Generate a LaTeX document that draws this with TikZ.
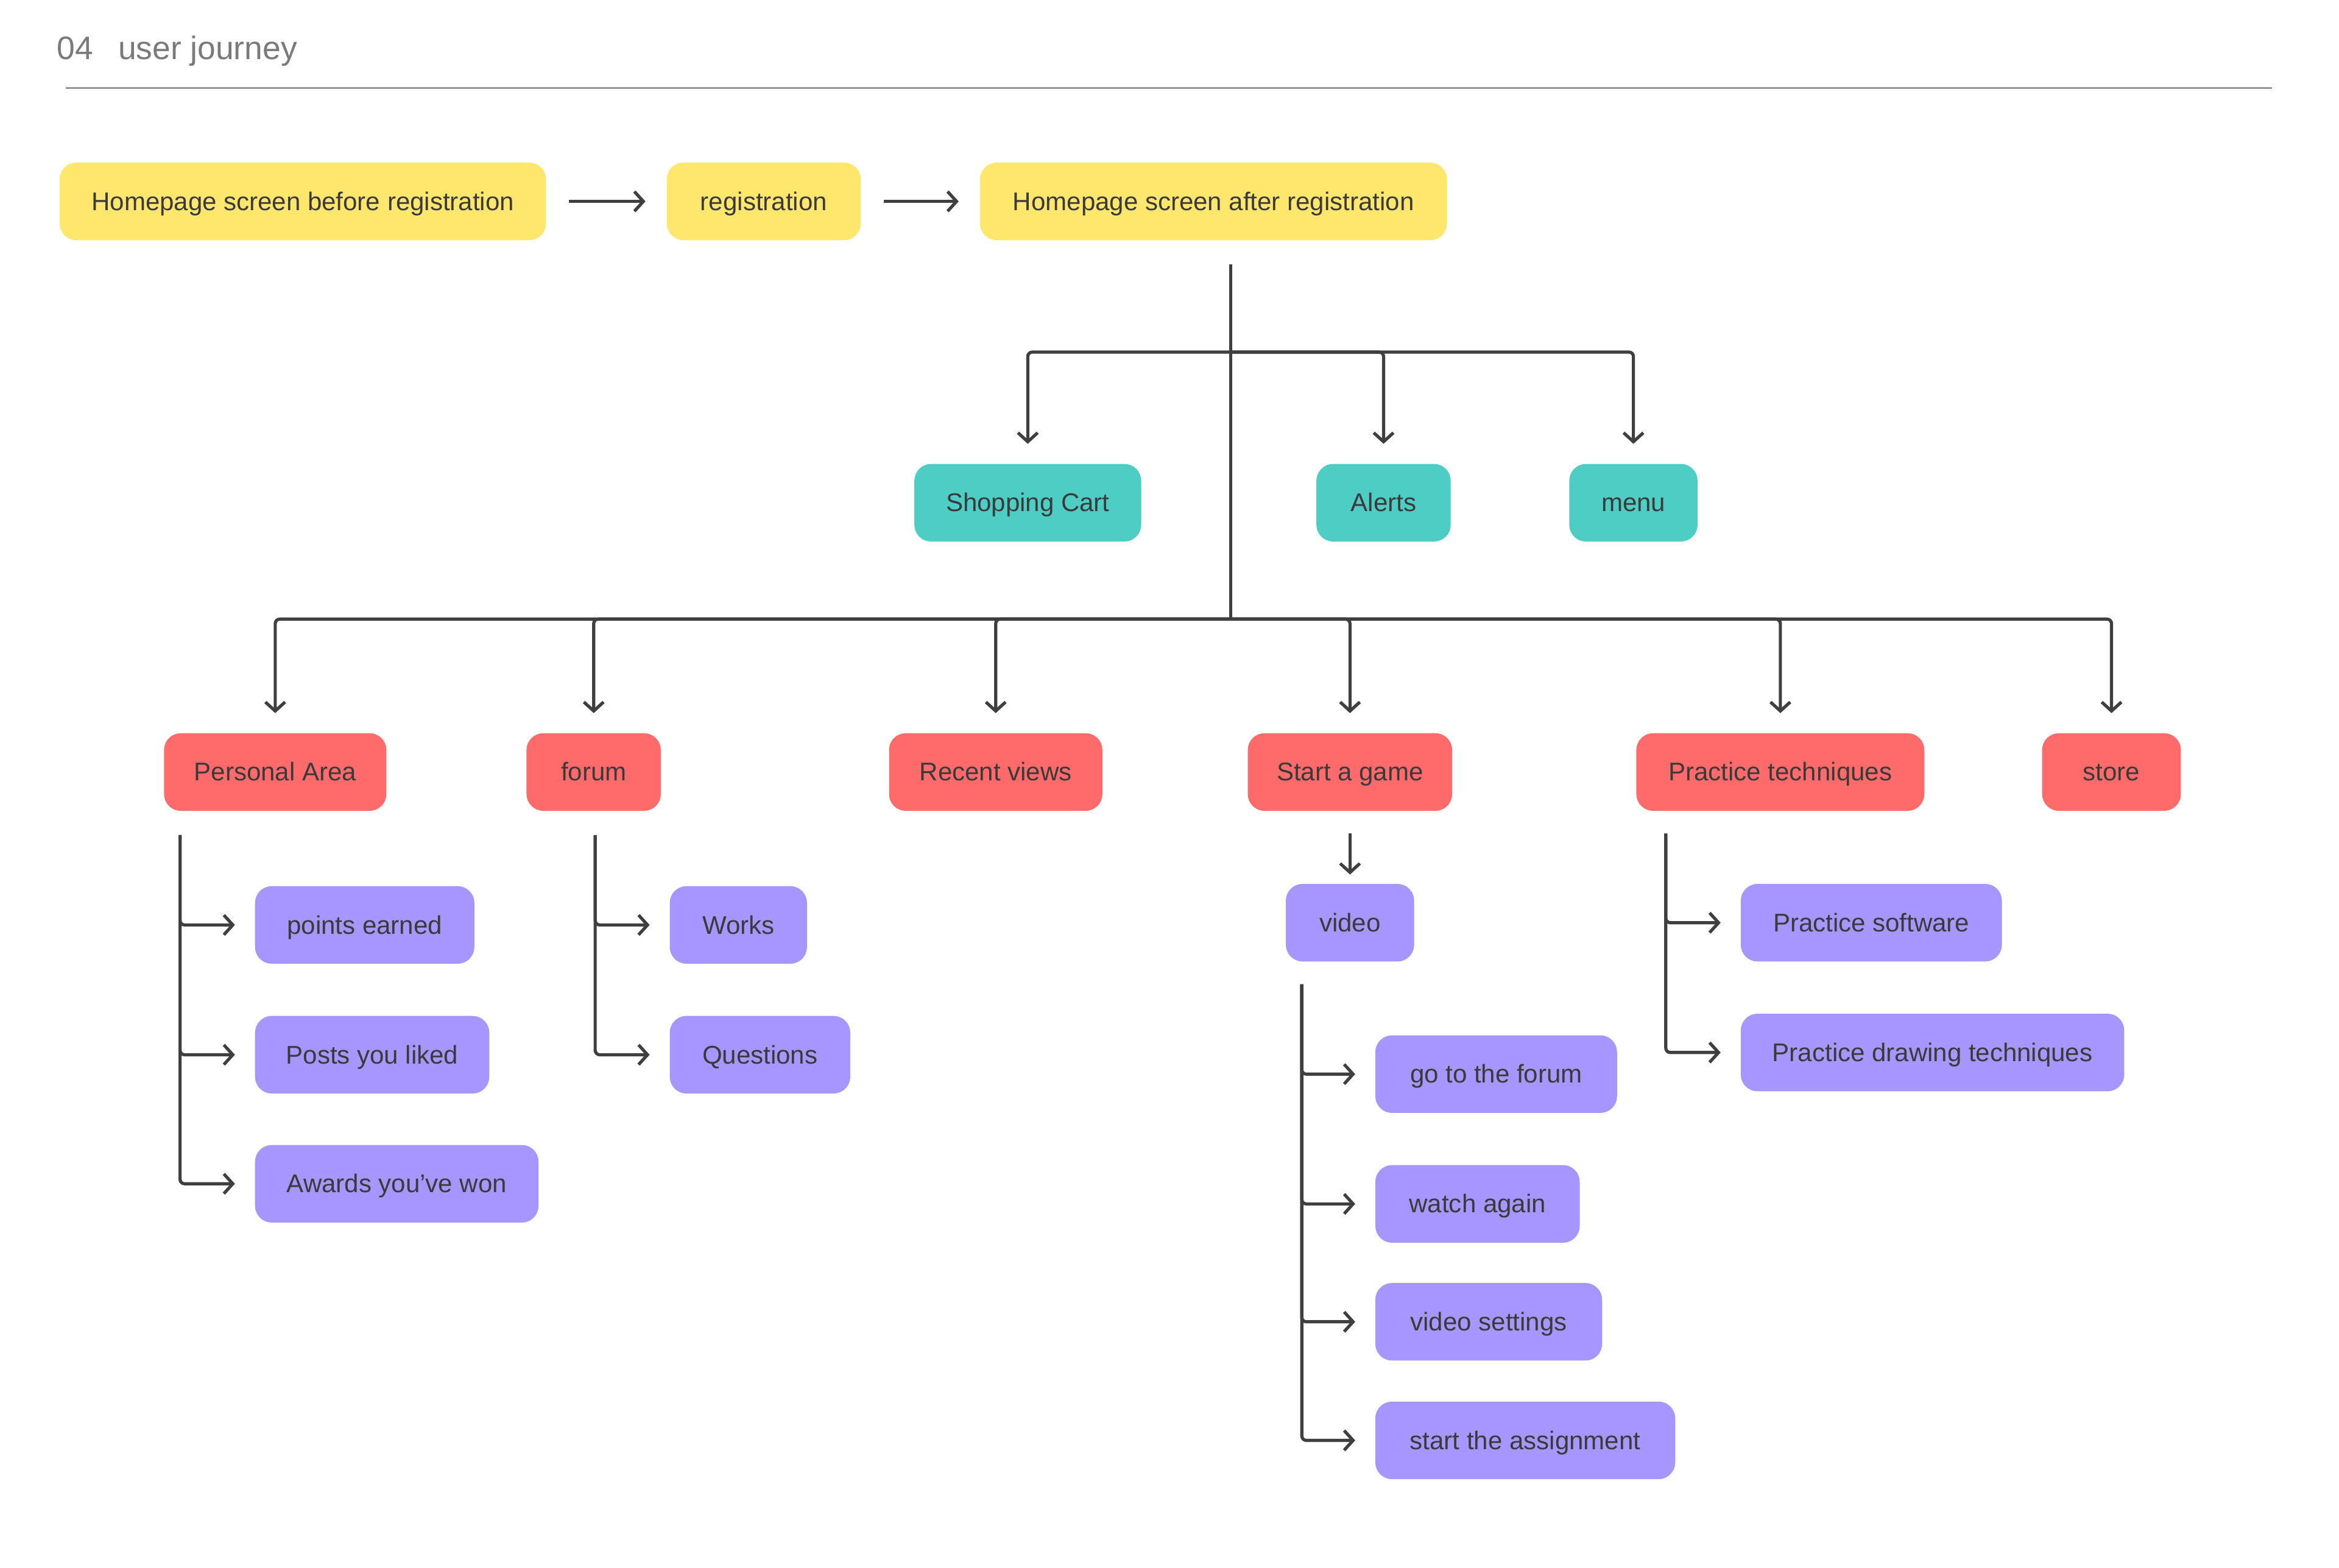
\documentclass[tikz,border=0pt]{standalone}
\usepackage{fontspec}
\setmainfont{Liberation Sans}
\usetikzlibrary{arrows.meta,calc}

\definecolor{jyellow}{HTML}{FFE66D}
\definecolor{jteal}{HTML}{4ECDC4}
\definecolor{jred}{HTML}{FF6B6B}
\definecolor{jpurple}{HTML}{A896FF}
\definecolor{jtext}{HTML}{3A3A3A}
\definecolor{jline}{HTML}{3F3F3F}
\definecolor{jgray}{HTML}{7A7A7A}

\begin{document}
\begin{tikzpicture}[x=0.025cm, y=-0.025cm,
  box/.style={rounded corners=0.28cm, minimum height=1.3cm, inner sep=0pt, text=jtext,
    font=\fontsize{12.2pt}{14pt}\selectfont, text height=8.8pt, text depth=0.3pt},
  yellowbox/.style={box, fill=jyellow},
  tealbox/.style={box, fill=jteal},
  redbox/.style={box, fill=jred},
  purplebox/.style={box, fill=jpurple},
  trunk/.style={draw=jline, line width=1.5pt},
  link/.style={trunk, rounded corners=0.075cm, -{Straight Barb[length=0.15cm,width=0.33cm]}, shorten >=0.33cm}]
  \useasboundingbox (0,0) rectangle (1568,1051);

  % title
  \node[anchor=base west, inner sep=0pt, text=jgray, font=\fontsize{15.5pt}{18pt}\selectfont] (num) at (38,40) {04};
  \node[anchor=base west, inner sep=0pt, text=jgray, font=\fontsize{15.5pt}{18pt}\selectfont] (title) at (79,40) {user journey};
  \draw[draw=jgray!80, line width=0.7pt] (44,59) -- (1523,59);

  % registration flow
  \node[yellowbox, minimum width=8.15cm] (before) at (203,135) {Homepage screen before registration};
  \node[yellowbox, minimum width=3.25cm] (reg) at (512,135) {registration};
  \node[yellowbox, minimum width=7.825cm] (after) at (813.5,135) {Homepage screen after registration};
  \draw[link, shorten <=0.375cm, shorten >=0.35cm] (before) -- (reg);
  \draw[link, shorten <=0.375cm, shorten >=0.35cm] (reg) -- (after);

  % top bar
  \node[tealbox, minimum width=3.8cm] (cart) at (689,337) {Shopping Cart};
  \node[tealbox, minimum width=2.25cm] (alerts) at (927.5,337) {Alerts};
  \node[tealbox, minimum width=2.15cm] (menu) at (1095,337) {menu};

  % main sections
  \node[redbox, minimum width=3.725cm] (personal) at (184.5,517.5) {Personal Area};
  \node[redbox, minimum width=2.25cm] (forum) at (398,517.5) {forum};
  \node[redbox, minimum width=3.575cm] (recent) at (667.5,517.5) {Recent views};
  \node[redbox, minimum width=3.425cm] (start) at (905,517.5) {Start a game};
  \node[redbox, minimum width=4.825cm] (practice) at (1193.5,517.5) {Practice techniques};
  \node[redbox, minimum width=2.325cm] (store) at (1415.5,517.5) {store};

  \coordinate (topbus) at (825,236);
  \coordinate (mainbus) at (825,415);
  \draw[trunk, shorten <=0.4cm] (after.south -| mainbus) -- (mainbus);
  \foreach \t in {cart,alerts,menu}
    \draw[link] (topbus) -| (\t);
  \foreach \s in {personal,forum,recent,start,practice,store}
    \draw[link] (mainbus) -| (\s);

  % personal area
  \node[purplebox, minimum width=3.675cm] (points) at (244.5,620) {points earned};
  \node[purplebox, minimum width=3.925cm] (posts) at (249.5,707) {Posts you liked};
  \node[purplebox, minimum width=4.75cm] (awards) at (266,793.5) {Awards you've won};
  \coordinate (pstem) at ($(personal.south west)+(11,16)$);
  \foreach \c in {points,posts,awards}
    \draw[link] (pstem) |- (\c);

  % forum
  \node[purplebox, minimum width=2.3cm] (works) at (495,620) {Works};
  \node[purplebox, minimum width=3.025cm] (questions) at (509.5,707) {Questions};
  \coordinate (fstem) at ($(forum.south)+(1,16)$);
  \foreach \c in {works,questions}
    \draw[link] (fstem) |- (\c);

  % start a game
  \node[purplebox, minimum width=2.15cm] (video) at (905,618.5) {video};
  \draw[link, shorten <=0.375cm, shorten >=0.15cm] (start) -- (video);
  \node[purplebox, minimum width=4.05cm] (goforum) at (1003,720) {go to the forum};
  \node[purplebox, minimum width=3.425cm] (watch) at (990.5,807) {watch again};
  \node[purplebox, minimum width=3.8cm] (settings) at (998,886) {video settings};
  \node[purplebox, minimum width=5.025cm] (assign) at (1022.5,965.5) {start the assignment};
  \coordinate (vstem) at ($(video.south west)+(11,15)$);
  \foreach \c in {goforum,watch,settings,assign}
    \draw[link] (vstem) |- (\c);

  % practice techniques
  \node[purplebox, minimum width=4.375cm] (software) at (1254.5,618.5) {Practice software};
  \node[purplebox, minimum width=6.425cm] (drawing) at (1295.5,705.5) {Practice drawing techniques};
  \coordinate (tstem) at ($(practice.south west)+(20,15)$);
  \foreach \c in {software,drawing}
    \draw[link] (tstem) |- (\c);
\end{tikzpicture}
\end{document}
